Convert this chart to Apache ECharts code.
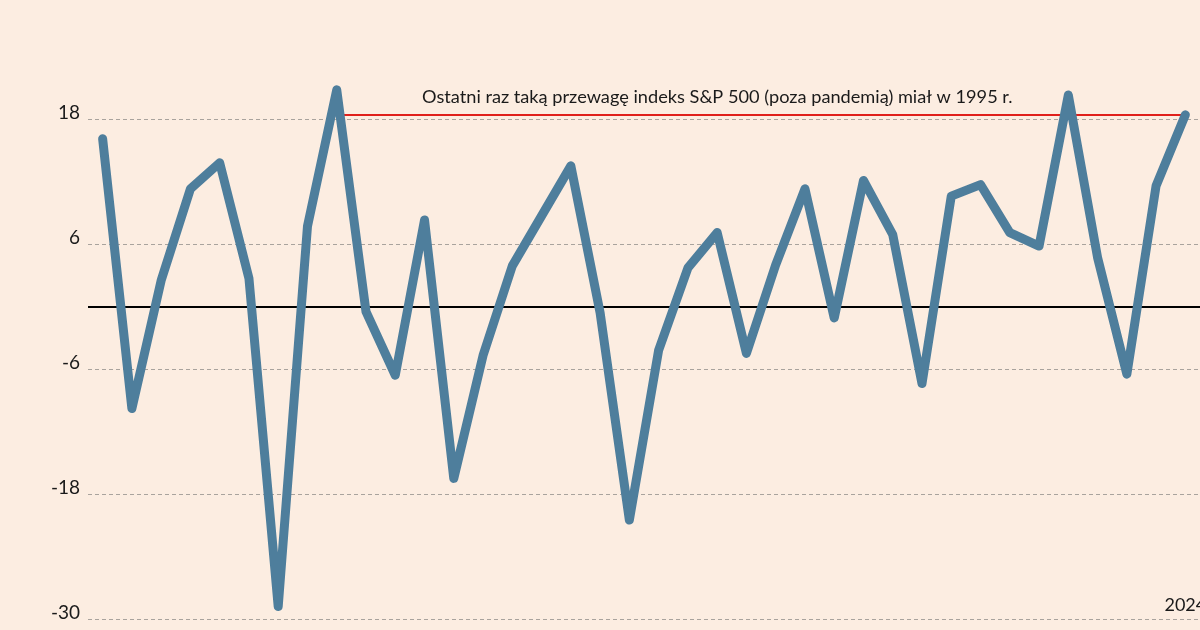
<!DOCTYPE html>
<html>
<head>
<meta charset="utf-8">
<script src="https://cdn.jsdelivr.net/npm/echarts@6/dist/echarts.min.js"></script>
<style>
html,body{margin:0;padding:0;background:#fcede1;}
#c{width:1200px;height:630px;}
</style>
</head>
<body>
<div id="c"></div>
<script>
const years = [];
for (let y = 1987; y <= 2024; y++) years.push(String(y));
const values = [16.1, -9.8, 2.5, 11.3, 13.8, 2.7, -28.8, 7.7, 20.8, -0.5,
  -6.6, 8.3, -16.5, -4.7, 3.9, 8.7, 13.5, -0.6, -20.5, -4.2,
  3.7, 7.1, -4.5, 4.0, 11.3, -1.1, 12.1, 6.9, -7.4, 10.6,
  11.7, 7.1, 5.8, 20.3, 4.7, -6.5, 11.6, 18.4];
const yTicks = [-30, -18, -6, 6, 18];
const refStart = '1995';
const refEnd = '2024';
const refValue = 18.4;
const note = 'Ostatni raz taką przewagę indeks S&P 500 (poza pandemią) miał w 1995 r.';

const chart = echarts.init(document.getElementById('c'), null, {renderer: 'canvas'});
chart.setOption({
  backgroundColor: '#fcede1',
  animation: false,
  textStyle: {fontFamily: 'Lato'},
  grid: {left: 88, right: 0, top: -6, bottom: 11, containLabel: false, outerBoundsMode: 'none'},
  xAxis: {
    type: 'category',
    data: years,
    boundaryGap: true,
    axisLine: {show: false},
    axisTick: {show: false},
    splitLine: {show: false},
    axisLabel: {
      inside: true,
      margin: 5,
      color: '#1a1a1a',
      fontSize: 18,
      fontFamily: 'Lato',
      interval: 0,
      hideOverlap: false,
      formatter: v => v === years[years.length - 1] ? v : ''
    }
  },
  yAxis: {
    type: 'value',
    min: -30,
    max: 30,
    interval: 12,
    axisLine: {show: false},
    axisTick: {show: false},
    splitLine: {show: true, lineStyle: {color: '#a9a39d', type: [4, 3], width: 1}},
    axisLabel: {
      margin: 8,
      color: '#1a1a1a',
      fontSize: 19,
      fontFamily: 'Lato',
      verticalAlign: 'bottom',
      lineHeight: 12,
      formatter: v => yTicks.indexOf(v) >= 0 ? String(v) : ''
    }
  },
  series: [{
    type: 'line',
    data: values,
    symbol: 'none',
    smooth: false,
    lineStyle: {color: '#4e7e9c', width: 9, cap: 'round', join: 'round'},
    z: 3,
    markLine: {
      silent: true,
      symbol: 'none',
      z: 2,
      label: {show: false},
      data: [
        [{xAxis: 0, yAxis: 0, x: 88, lineStyle: {color: '#000', width: 2, type: 'solid'}}, {yAxis: 0, x: 1200}],
        [{coord: [refStart, refValue], lineStyle: {color: '#e0201b', width: 2, type: 'solid'}}, {coord: [refEnd, refValue]}]
      ]
    }
  }],
  graphic: [{
    type: 'text',
    left: 422,
    top: 88,
    style: {text: note, fill: '#1a1a1a', font: '18.2px Lato'}
  }]
});
</script>
</body>
</html>
